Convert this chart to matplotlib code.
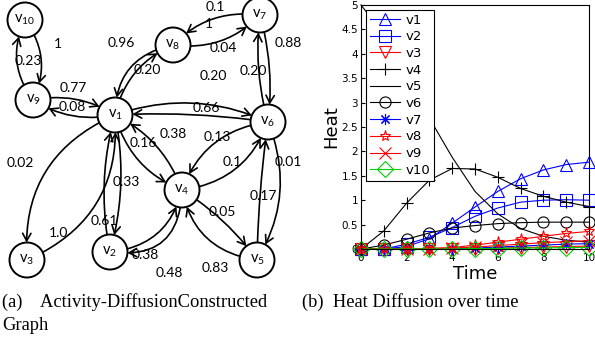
import numpy as np
import matplotlib.pyplot as plt
from matplotlib.patches import Circle, FancyArrowPatch

# ---- heat diffusion data ----
time = np.arange(0, 11)
series_names = ['v1', 'v2', 'v3', 'v4', 'v5', 'v6', 'v7', 'v8', 'v9', 'v10']
v1 = [0, 0.0, 0.05, 0.21, 0.53, 0.86, 1.18, 1.44, 1.62, 1.73, 1.78]
v2 = [0, 0.0, 0.10, 0.24, 0.44, 0.67, 0.84, 0.96, 1.00, 1.01, 1.00]
v3 = [0, 0, 0, 0.0, 0.01, 0.01, 0.02, 0.03, 0.04, 0.05, 0.06]
v4 = [0, 0.37, 0.94, 1.41, 1.65, 1.64, 1.47, 1.24, 1.08, 0.96, 0.87]
v5 = [5.0, 4.4, 3.55, 2.68, 1.88, 1.18, 0.72, 0.42, 0.26, 0.18, 0.14]
v6 = [0, 0.08, 0.20, 0.33, 0.43, 0.48, 0.52, 0.54, 0.55, 0.55, 0.55]
v7 = [0, 0, 0, 0.0, 0.01, 0.02, 0.04, 0.06, 0.08, 0.10, 0.11]
v8 = [0, 0, 0, 0.01, 0.03, 0.08, 0.14, 0.20, 0.26, 0.32, 0.36]
v9 = [0, 0, 0, 0.01, 0.02, 0.04, 0.07, 0.10, 0.13, 0.15, 0.17]
v10 = [0, 0, 0, 0, 0, 0.01, 0.01, 0.02, 0.02, 0.03, 0.03]
series = [v1, v2, v3, v4, v5, v6, v7, v8, v9, v10]
styles = [('b', '^'), ('b', 's'), ('r', 'v'), ('k', '+'), ('k', None),
          ('k', 'o'), ('b', (8, 2, 0)), ('r', '*'), ('r', 'x'), ('#00cc00', 'D')]

# ---- graph data ----
nodes = ['1', '2', '3', '4', '5', '6', '7', '8', '9', '10']
edges = [('10', '9'), ('9', '10'), ('9', '1'), ('1', '9'), ('8', '1'), ('1', '8'),
         ('7', '8'), ('8', '7'), ('7', '6'), ('6', '7'), ('1', '6'), ('6', '1'),
         ('6', '4'), ('4', '6'), ('1', '4'), ('4', '1'), ('6', '5'), ('5', '6'),
         ('4', '5'), ('5', '4'), ('1', '2'), ('2', '1'), ('2', '4'), ('4', '2'),
         ('1', '3'), ('3', '1')]
weights = ['1', '0.23', '0.77', '0.08', '0.96', '0.20', '0.1', '0.04', '0.88', '0.20',
           '0.20', '0.66', '0.13', '0.1', '0.16', '0.38', '0.01', '0.17', '0.05', '0.83',
           '0.33', '0.61', '0.38', '0.48', '0.02', '1.0']

# layout of the drawing (pixels)
node_xy = {'1': (115, 115), '2': (110, 252), '3': (27, 260), '4': (182, 190),
           '5': (257, 260), '6': (268, 122), '7': (260, 15), '8': (173, 45),
           '9': (33, 100), '10': (25, 20)}
edge_rad = [-0.3, -0.3, -0.2, -0.2, 0.4, -0.25, 0.25, 0.25, -0.1, -0.1,
            -0.2, 0.05, 0.3, 0.3, 0.25, 0.2, -0.25, -0.03, -0.1, -0.35,
            -0.12, -0.12, 0.35, -0.55, 0.35, 0.35]
label_xy = [(58, 44), (28, 61), (73, 88), (72, 107), (121, 43), (147, 70),
            (215, 7), (223, 48), (288, 43), (253, 71), (213, 76), (206, 108),
            (217, 137), (232, 162), (143, 143), (173, 134), (288, 162), (263, 196),
            (222, 212), (215, 268), (126, 182), (104, 221), (145, 255), (169, 273),
            (20, 163), (59, 233)]

fig = plt.figure(figsize=(5.95, 3.52), dpi=100)

g = fig.add_axes([0, 0, 1, 1])
g.set_xlim(0, 595)
g.set_ylim(352, 0)
g.axis('off')

r = 17.5
for (a, b), rad in zip(edges, edge_rad):
    arr = FancyArrowPatch(node_xy[a], node_xy[b],
                          connectionstyle='arc3,rad=%g' % rad,
                          arrowstyle='->,head_length=0.45,head_width=0.25',
                          mutation_scale=12, shrinkA=r * 0.72, shrinkB=r * 0.72,
                          lw=1.2, color='k')
    g.add_patch(arr)

for w, (x, y) in zip(weights, label_xy):
    g.text(x, y, w, ha='center', va='center', fontsize=10, family='Lato')
g.text(209, 24, '1', ha='center', va='center', fontsize=10, family='Lato')

for n in nodes:
    x, y = node_xy[n]
    g.add_patch(Circle((x, y), r, facecolor='white', edgecolor='k', lw=1.4, zorder=3))
    g.text(x, y, r'$\mathregular{v_{%s}}$' % n, ha='center', va='center',
           fontsize=10.5, family='Lato', zorder=4)

# ---- heat chart ----
ax = fig.add_axes([361 / 595, 1 - 249 / 352, 228 / 595, 244 / 352])
for name, vals, (c, m) in zip(series_names, series, styles):
    ax.plot(time, vals, color=c, marker=m, mfc='none', ms=8, mew=0.8, lw=0.8,
            label=name, clip_on=False)
ax.set_xlim(0, 10)
ax.set_ylim(0, 5)
ax.set_xticks([0, 2, 4, 6, 8, 10])
ax.set_yticks(np.arange(0, 5.01, 0.5))
ax.set_yticklabels(['0', '0.5', '1', '1.5', '2', '2.5', '3', '3.5', '4', '4.5', '5'])
ax.tick_params(direction='in', labelsize=7.5, length=3, pad=2)
ax.tick_params(axis='x', pad=3)
ax.set_xlabel('Time', fontsize=13, labelpad=1)
ax.set_ylabel('Heat', fontsize=13, labelpad=1)
leg = ax.legend(loc='upper left', fontsize=9.5, handlelength=2.3, labelspacing=0.28,
                borderaxespad=0.35, fancybox=False, framealpha=1, borderpad=0.3,
                handletextpad=0.4)
leg.get_frame().set_edgecolor('k')
leg.get_frame().set_linewidth(0.8)

# ---- captions ----
cap = dict(fontsize=13.3, family='Liberation Serif', va='center')
fig.text(2 / 595, 1 - 302 / 352, '(a)    Activity-DiffusionConstructed', **cap)
fig.text(2 / 595, 1 - 326 / 352, 'Graph', **cap)
fig.text(302 / 595, 1 - 302 / 352, '(b)  Heat Diffusion over time', **cap)

fig.savefig('out.png', dpi=100)
